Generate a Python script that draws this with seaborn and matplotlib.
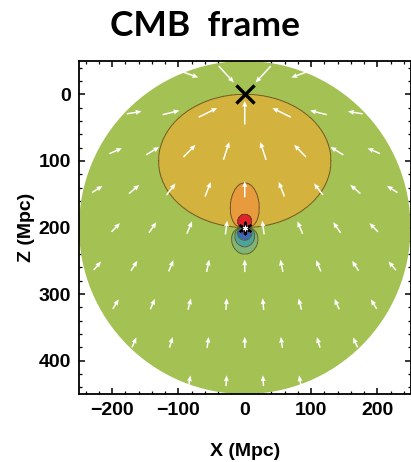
import numpy as np
import matplotlib
matplotlib.use("Agg")
import matplotlib.pyplot as plt
import seaborn as sns
import pandas as pd
from matplotlib.patches import Circle
from matplotlib.ticker import MultipleLocator

# ---------------- data ----------------
title = "CMB  frame"
x_label = "X (Mpc)"
z_label = "Z (Mpc)"
x_ticks = [-200, -100, 0, 100, 200]
z_ticks = [0, 100, 200, 300, 400]
x_range = [-250, 250]
z_range = [-50, 450]

sphere_center = [0, 200]
sphere_radius = 250
observer_xz = [0, 0]          # the "X" marker
attractor_xz = [0, 200]       # the asterisk marker

# big gold region (ellipse): center and semi-axes
gold_center = [0, 100]
gold_axes = [130, 100]

# lobes around the attractor: size along axis, horizontal squeeze, level id
upper_lobe_r0 = [67, 20]
upper_lobe_sx = [1.9, 1.2]
upper_lobe_level = [2, 3]
lower_lobe_r0 = [40, 29, 19, 10]
lower_lobe_sx = [1.25, 1.2, 1.1, 1.0]
lower_lobe_level = [-1, -2, -3, -4]

region_levels = [-4.5, -3.5, -2.5, -1.5, -0.5, 0.5, 1.5, 2.5, 3.5]
region_colors = ["#4a2a86", "#3b69b8", "#4ea39c", "#7fb57a",
                 "#a4c153", "#d3b33e", "#e89b3c", "#e0232b"]

# arrow grid (rows of arrows, alternate rows offset by half a spacing)
arrow_rows_z = [-30, 27.5, 85, 142.5, 200, 257.5, 315, 372.5, 430]
arrow_row_centered = [False, True, False, True, False, True, False, True, False]
arrow_spacing = 55.6
arrow_len_base = 15.0      # Mpc, far from the observer
arrow_len_extra = 25.0     # Mpc, extra length close to the observer
arrow_len_scale = 140.0    # Mpc

# ---------------- build field ----------------
n = 801
xs = np.linspace(x_range[0], x_range[1], n)
zs = np.linspace(z_range[0], z_range[1], n)
XG, ZG = np.meshgrid(xs, zs)
level = np.zeros_like(XG)
E = ((XG - gold_center[0]) / gold_axes[0]) ** 2 + ((ZG - gold_center[1]) / gold_axes[1]) ** 2
level[E <= 1] = 1
dz = ZG - attractor_xz[1]
for r0, sx, lv in zip(upper_lobe_r0, upper_lobe_sx, upper_lobe_level):
    r = np.sqrt((XG * sx) ** 2 + dz ** 2) + 1e-9
    phi = -dz / r ** 3
    level[phi >= 1.0 / r0 ** 2] = lv
for r0, sx, lv in zip(lower_lobe_r0, lower_lobe_sx, lower_lobe_level):
    r = np.sqrt((XG * sx) ** 2 + dz ** 2) + 1e-9
    phi = dz / r ** 3
    level[phi >= 1.0 / r0 ** 2] = lv

# arrows
ax_pts, az_pts = [], []
for zr, cen in zip(arrow_rows_z, arrow_row_centered):
    ks = np.arange(-6, 7) if cen else np.arange(-6, 6) + 0.5
    for k in ks:
        xv = k * arrow_spacing
        if np.hypot(xv - sphere_center[0], zr - sphere_center[1]) < sphere_radius - 3:
            ax_pts.append(xv)
            az_pts.append(zr)
arrows = pd.DataFrame({"x": ax_pts, "z": az_pts})
dxv = observer_xz[0] - arrows["x"]
dzv = observer_xz[1] - arrows["z"]
dist = np.hypot(dxv, dzv)
length = arrow_len_base + arrow_len_extra * np.exp(-dist / arrow_len_scale)
arrows["u"] = dxv / dist * length
arrows["v"] = dzv / dist * length

# ---------------- plot ----------------
sns.set_theme(style="white")
plt.rcParams["font.family"] = ["Liberation Sans", "DejaVu Sans"]
plt.rcParams["text.color"] = "black"
plt.rcParams["axes.labelcolor"] = "black"
plt.rcParams["xtick.color"] = "black"
plt.rcParams["ytick.color"] = "black"

W, H = 411, 462
fig = plt.figure(figsize=(W / 100, H / 100), dpi=100)
ax = fig.add_axes([79 / W, 68 / H, 331.5 / W, 333 / H])

circ = Circle(sphere_center, sphere_radius, transform=ax.transData)
cf = ax.contourf(XG, ZG, level, levels=region_levels, colors=region_colors)
cf.set_clip_path(circ)
cl = ax.contour(XG, ZG, level, levels=[-3.5, -2.5, -1.5, -0.5, 0.5, 1.5, 2.5],
                colors="#4a4420", linewidths=0.7, alpha=0.75, linestyles="solid")
cl.set_clip_path(circ)

ax.quiver(arrows["x"], arrows["z"], arrows["u"], arrows["v"],
          angles="xy", scale_units="xy", scale=1, pivot="middle",
          color="white", units="dots", width=1.5,
          headwidth=3.4, headlength=4.0, headaxislength=3.6, zorder=4)

markers = pd.DataFrame({"x": [observer_xz[0]], "z": [observer_xz[1]]})
sns.scatterplot(data=markers, x="x", y="z", ax=ax, marker="x", s=170,
                color="black", linewidth=2.4, zorder=5, legend=False)
stars = pd.DataFrame({"x": [attractor_xz[0]], "z": [attractor_xz[1]]})
sns.scatterplot(data=stars, x="x", y="z", ax=ax, marker=(6, 2, 0), s=70,
                color="black", linewidth=1.6, zorder=5, legend=False)
ax.plot(attractor_xz[0], attractor_xz[1], marker=(6, 2, 0), ms=4,
        color="white", mew=0.8, zorder=6)

ax.set_xlim(*x_range)
ax.set_ylim(z_range[1], z_range[0])
ax.set_xticks(x_ticks)
ax.set_yticks(z_ticks)
ax.xaxis.set_minor_locator(MultipleLocator(20))
ax.yaxis.set_minor_locator(MultipleLocator(20))
ax.tick_params(which="both", direction="in", top=True, right=True,
               bottom=True, left=True, color="black")
ax.tick_params(which="major", length=4, width=1.1, labelsize=14, pad=6)
ax.tick_params(which="minor", length=2, width=0.9)
for lab in ax.get_xticklabels() + ax.get_yticklabels():
    lab.set_fontweight("bold")
for sp in ax.spines.values():
    sp.set_color("black")
    sp.set_linewidth(1.3)

ax.set_xlabel(x_label, fontsize=14, fontweight="bold")
ax.set_ylabel(z_label, fontsize=14, fontweight="bold")
ax.xaxis.set_label_coords(0.5, -0.174)
ax.xaxis.label.set_va("center")
ax.yaxis.set_label_coords(-0.157, 0.5)
ax.yaxis.label.set_va("center")
ax.grid(False)

fig.text(205 / W, 1 - 36 / H, title, ha="center", va="baseline",
         fontsize=25.5, fontweight="bold", family=["Lato", "DejaVu Sans"])

fig.savefig("out.png", dpi=100, facecolor="white")
